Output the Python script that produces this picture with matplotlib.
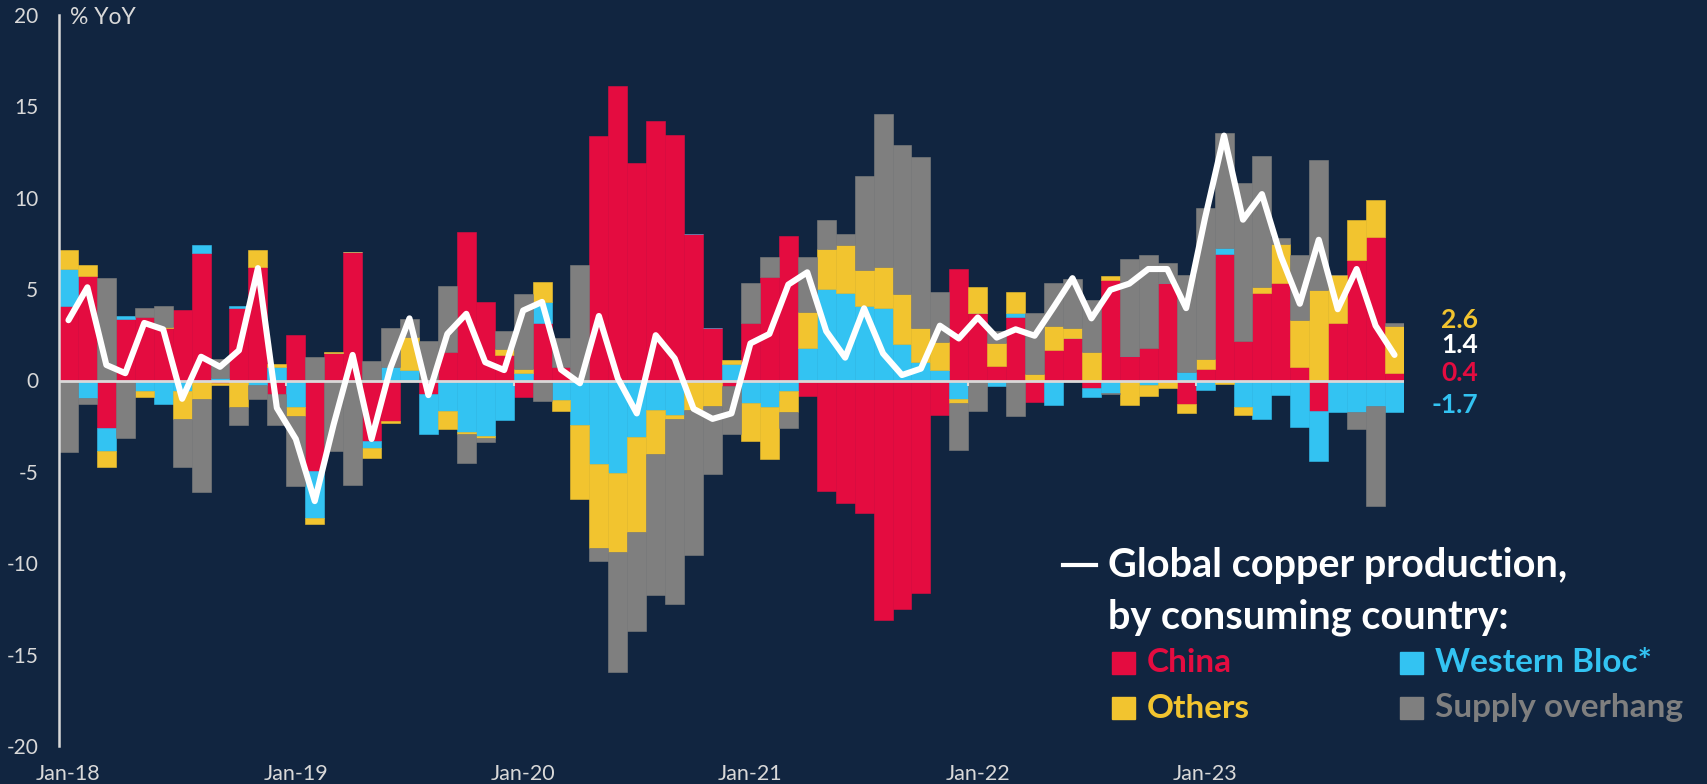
import numpy as np
import matplotlib.pyplot as plt
from matplotlib.patches import Rectangle
from matplotlib.lines import Line2D

plt.rcParams['font.family'] = ['Lato', 'DejaVu Sans']
plt.rcParams['axes.unicode_minus'] = False

# monthly contributions, % YoY, Jan-18 .. Nov-23
china = [4.1, 5.7, -2.6, 3.35, 3.45, 2.85, 3.85, 7.0, -0.13, 3.95,
         6.2, -0.75, 2.5, -4.95, 1.5, 7.05, -3.3, -2.2, 0.0, -0.75,
         1.55, 8.1, 4.3, 1.4, -0.9, 3.15, 0.75, 0.0, 13.4, 16.1,
         11.9, 14.2, 13.45, 8.0, 2.85, -0.3, 3.15, 5.65, 7.9, -0.85,
         -6.05, -6.7, -7.25, -13.1, -12.5, -11.65, -1.9, 6.1, 3.7, 0.8,
         3.5, -1.2, 1.65, 2.35, -0.4, 5.5, 1.35, 1.8, 5.35, -1.3,
         0.65, 6.9, 2.15, 4.8, 5.35, 0.75, -1.65, 3.15, 6.6, 7.85, 0.4]
western = [2.0, -0.95, -1.25, 0.18, -0.55, -1.28, -0.6, 0.4, 0.15, 0.12,
           -0.27, 0.75, -1.47, -2.55, 0.0, 0.0, -0.42, 0.75, 0.57, -2.2,
           -1.65, -2.84, -3.06, -2.14, 0.42, 1.15, -1.04, -2.42, -4.58, -5.04,
           -3.11, -1.59, -1.87, 0.0, 0.0, 0.93, -1.25, -1.47, -0.6, 1.76,
           5.0, 4.78, 4.05, 3.96, 2.0, 0.99, 0.57, -1.0, 0.0, -0.31,
           0.18, 0.0, -1.32, 0.0, -0.52, -0.68, 0.0, -0.27, 0.0, 0.48,
           -0.5, 0.36, -1.45, -2.1, -0.79, -2.56, -2.75, -1.74, -1.74, -1.37, -1.7]
others = [1.05, 0.64, -0.88, -0.05, -0.37, 0.09, -1.5, -1.0, -0.1, -1.47,
          0.93, 0.18, -0.45, -0.37, 0.08, 0.0, -0.53, -0.13, 1.79, 0.0,
          -1.01, -0.08, -0.1, 0.33, 0.2, 1.1, -0.65, -4.05, -4.61, -4.34,
          -5.17, -2.44, -0.23, -1.61, -1.41, 0.19, -2.08, -2.83, -1.14, 2.01,
          2.22, 2.66, 2.01, 2.23, 2.73, 1.9, 1.55, -0.23, 1.43, 1.24,
          1.19, 0.38, 1.32, 0.52, 1.57, 0.22, -1.34, -0.59, -0.4, -0.46,
          0.55, -0.2, -0.45, 0.33, 2.12, 2.56, 4.93, 2.62, 2.16, 2.01, 2.6]
supply = [-3.9, -0.33, 5.6, -3.1, 0.54, 1.14, -2.65, -5.08, 1.0, -0.97,
          -0.73, -1.71, -3.85, 1.3, -3.85, -5.73, 1.08, 2.11, 0.99, 2.18,
          3.63, -1.57, -0.18, 0.99, 4.12, -1.14, 1.56, 6.34, -0.66, -6.59,
          -5.4, -7.69, -10.13, -7.95, -3.68, -2.62, 2.2, 1.12, -0.88, 2.99,
          1.55, 0.58, 5.13, 8.39, 8.15, 9.36, 2.75, -2.56, -1.69, 0.65,
          -1.92, 3.3, 2.38, 2.69, 2.84, -0.05, 5.31, 5.08, 1.1, 5.31,
          8.24, 6.28, 8.66, 7.14, 0.31, 3.58, 7.14, 0.0, -0.92, -5.5, 0.15]
production = [3.3, 5.1, 0.85, 0.4, 3.15, 2.8, -1.0, 1.3, 0.75, 1.65,
              6.15, -1.5, -3.2, -6.6, -2.4, 1.4, -3.2, 0.7, 3.4, -0.8,
              2.55, 3.65, 1.0, 0.57, 3.83, 4.3, 0.6, -0.15, 3.53, 0.12,
              -1.8, 2.48, 1.21, -1.55, -2.1, -1.8, 2.03, 2.55, 5.25, 5.92,
              2.7, 1.25, 3.95, 1.48, 0.3, 0.65, 3.0, 2.3, 3.45, 2.35,
              2.8, 2.45, 4.0, 5.6, 3.4, 4.96, 5.3, 6.1, 6.1, 3.96,
              8.9, 13.4, 8.8, 10.2, 6.8, 4.2, 7.7, 3.9, 6.1, 3.0, 1.4]
year_labels = ['Jan-18', 'Jan-19', 'Jan-20', 'Jan-21', 'Jan-22', 'Jan-23']
last_values = ['2.6', '1.4', '0.4', '-1.7']

bg = '#112540'
red = '#E40C40'
blue = '#33C3F2'
yellow = '#F2C42F'
grey = '#7F7F7F'
light = '#D9D9D9'

fig = plt.figure(figsize=(17.08, 7.84), dpi=100, facecolor=bg)
ax = fig.add_axes([59 / 1708, 38 / 784, 1345 / 1708, 731 / 784])
ax.set_facecolor(bg)

x = np.arange(len(china))
pos_base = np.zeros(len(x))
neg_base = np.zeros(len(x))
for vals, col in [(china, red), (western, blue), (others, yellow), (supply, grey)]:
    v = np.array(vals)
    bottom = np.where(v >= 0, pos_base, neg_base)
    ax.bar(x, v, width=1.0, bottom=bottom, color=col,
           edgecolor=col, linewidth=0.4, zorder=1)
    pos_base = pos_base + np.clip(v, 0, None)
    neg_base = neg_base + np.clip(v, None, 0)

ax.axhline(0, color=light, lw=2, zorder=2)
ax.vlines(np.arange(12, len(x), 12) - 0.5, -0.3, 0, color=light, lw=1.5, zorder=2)
ax.plot(x, production, color='white', lw=4.4, solid_joinstyle='round',
        solid_capstyle='round', zorder=3)

ax.set_xlim(-0.5, len(x) - 0.5)
ax.set_ylim(-20, 20)
ax.set_yticks(range(-20, 21, 5))
ax.set_xticks(range(0, len(x), 12))
ax.set_xticklabels(year_labels)
ax.tick_params(axis='y', length=0, pad=15, labelsize=15, labelcolor=light)
ax.tick_params(axis='x', length=0, pad=13, labelsize=15.5, labelcolor=light)
for s in ['top', 'right', 'bottom']:
    ax.spines[s].set_visible(False)
ax.spines['left'].set_color(light)
ax.spines['left'].set_linewidth(1.8)

fig.text(70 / 1708, 1 - 17 / 784, '% YoY', color=light, fontsize=16.5, va='center')

# end-of-series labels
for txt, col, yy in zip(last_values, [yellow, 'white', red, blue], [320, 345, 373, 405]):
    fig.text(1478 / 1708, 1 - yy / 784, txt, color=col, fontsize=19,
             fontweight='bold', ha='right', va='center')

# legend block
fig.add_artist(Line2D([1063 / 1708, 1096 / 1708], [1 - 565 / 784] * 2,
                      color='white', lw=3, transform=fig.transFigure))
fig.text(1108 / 1708, 1 - 565 / 784, 'Global copper production,', color='white',
         fontsize=28.5, fontweight='bold', va='center')
fig.text(1108 / 1708, 1 - 617 / 784, 'by consuming country:', color='white',
         fontsize=28.5, fontweight='bold', va='center')
items = [('China', red, 1112, 663), ('Others', yellow, 1112, 708),
         ('Western Bloc*', blue, 1400, 663), ('Supply overhang', grey, 1400, 708)]
for name, col, xx, yy in items:
    fig.add_artist(Rectangle((xx / 1708, 1 - (yy + 11) / 784), 23 / 1708, 22 / 784,
                             color=col, transform=fig.transFigure))
    fig.text((xx + 35) / 1708, 1 - yy / 784, name, color=col, fontsize=24,
             fontweight='bold', va='center')

fig.savefig('out.png', dpi=100, facecolor=bg)
